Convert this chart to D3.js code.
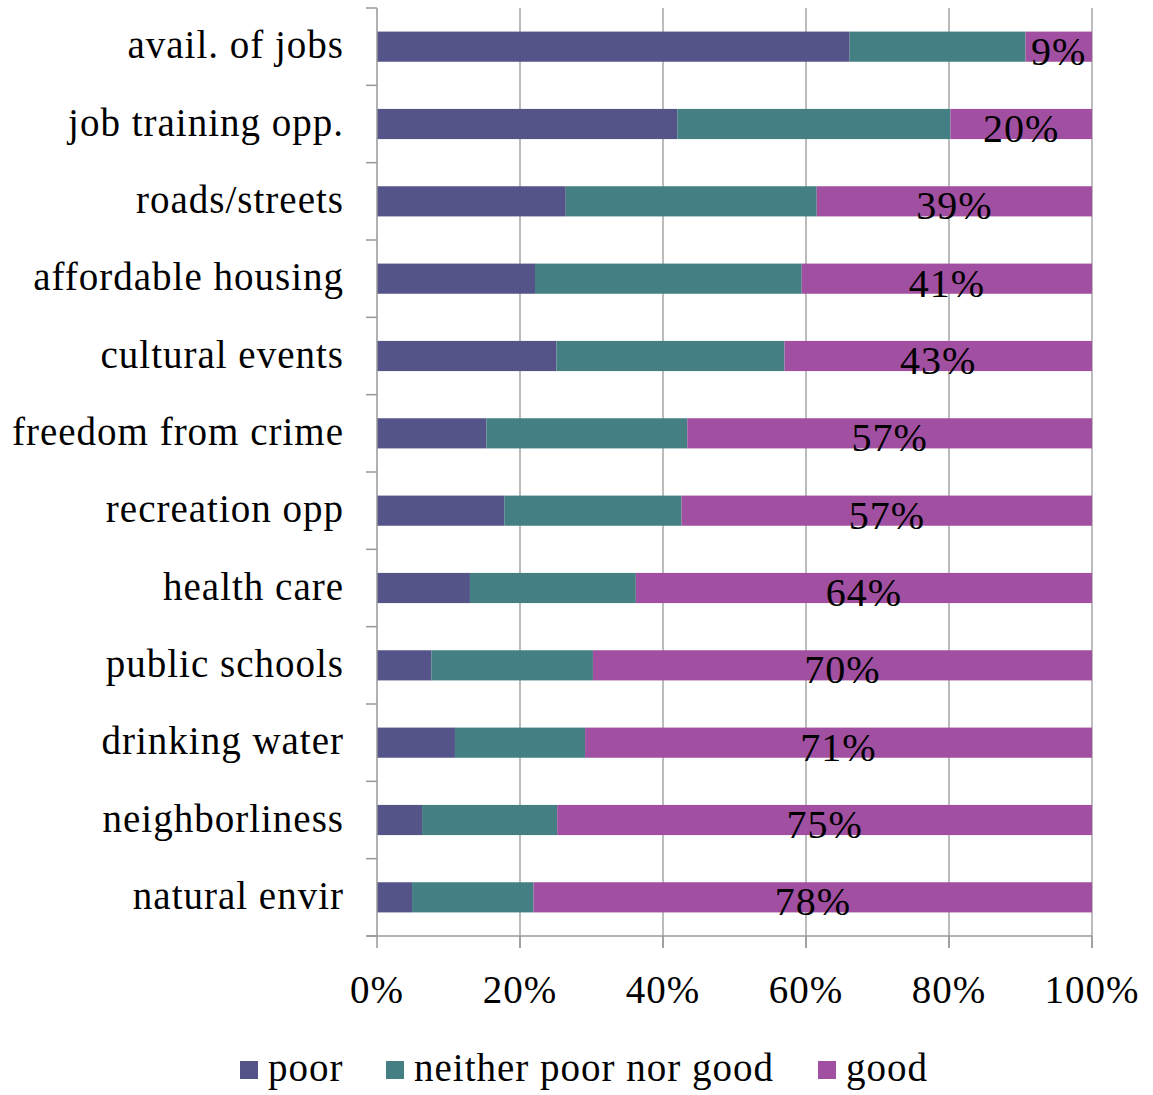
<!DOCTYPE html>
<meta charset="utf-8">
<style>
body { margin: 0; background: #fff; }
text { font-family: "Liberation Serif", "DejaVu Serif", serif; fill: #000; letter-spacing: 1px; }
</style>
<body>
<script src="https://d3js.org/d3.v7.min.js"></script>
<script>

let categories = ["avail. of jobs", "job training opp.", "roads/streets", "affordable housing",
  "cultural events", "freedom from crime", "recreation opp", "health care",
  "public schools", "drinking water", "neighborliness", "natural envir"];
let poor    = [66.1, 42.0, 26.4, 22.1, 25.1, 15.3, 17.8, 13.0,  7.6, 10.9,  6.3,  4.9];
let neither = [24.6, 38.2, 35.1, 37.3, 31.9, 28.1, 24.8, 23.2, 22.6, 18.2, 18.9, 17.0];
let good    = [ 9.3, 19.8, 38.5, 40.6, 43.0, 56.6, 57.4, 63.8, 69.8, 70.9, 74.8, 78.1];
let goodLabels = ["9%", "20%", "39%", "41%", "43%", "57%", "57%", "64%", "70%", "71%", "75%", "78%"];
let seriesNames = ["poor", "neither poor nor good", "good"];
let colors = ["#545489", "#447f83", "#a04fa1"];
let xTicks = [0, 20, 40, 60, 80, 100];

let width = 1153;
let height = 1095;
let mLeft = 377, mRight = 1092, mTop = 8, mBottom = 936;

let svg = d3.select("body").append("svg")
    .attr("width", width)
    .attr("height", height);

let data = categories.map((c, i) => ({cat: c, poor: poor[i], neither: neither[i], good: good[i]}));
let stack = d3.stack().keys(["poor", "neither", "good"])(data);

let x = d3.scaleLinear().domain([0, 100]).range([mLeft, mRight]);
let y = d3.scaleBand().domain(categories).range([mTop, mBottom]).paddingInner(0.61).paddingOuter(0.305);
let yTick = d3.scaleBand().domain(categories).range([mTop, mBottom]);

// gridlines
svg.append("g").selectAll("line")
  .data(xTicks.slice(1))
  .enter().append("line")
    .attr("x1", d => x(d)).attr("x2", d => x(d))
    .attr("y1", mTop).attr("y2", mBottom + 12)
    .attr("stroke", "#a6a6a6").attr("stroke-width", 1.5);

// bars
svg.append("g").selectAll("g")
  .data(stack)
  .enter().append("g")
    .attr("fill", (d, i) => colors[i])
  .selectAll("rect")
  .data(d => d)
  .enter().append("rect")
    .attr("x", d => x(d[0]))
    .attr("width", d => x(d[1]) - x(d[0]))
    .attr("y", d => y(d.data.cat))
    .attr("height", y.bandwidth());

// y axis line and ticks
svg.append("line")
  .attr("x1", mLeft).attr("x2", mLeft).attr("y1", mTop).attr("y2", mBottom)
  .attr("stroke", "#999").attr("stroke-width", 1.5);
svg.append("g").selectAll("line")
  .data(categories.concat(["end"]))
  .enter().append("line")
    .attr("x1", mLeft - 11).attr("x2", mLeft)
    .attr("y1", (d, i) => mTop + i * yTick.step())
    .attr("y2", (d, i) => mTop + i * yTick.step())
    .attr("stroke", "#999").attr("stroke-width", 1.5);

// x axis line and ticks
svg.append("line")
  .attr("x1", mLeft - 11).attr("x2", mRight).attr("y1", mBottom).attr("y2", mBottom)
  .attr("stroke", "#999").attr("stroke-width", 1.5);
svg.append("g").selectAll("line")
  .data(xTicks)
  .enter().append("line")
    .attr("x1", d => x(d)).attr("x2", d => x(d))
    .attr("y1", mBottom).attr("y2", mBottom + 12)
    .attr("stroke", "#999").attr("stroke-width", 1.5);

// category labels
svg.append("g").selectAll("text")
  .data(categories)
  .enter().append("text")
    .attr("x", 344)
    .attr("y", d => y(d) + y.bandwidth() / 2)
    .attr("dy", "0.3em")
    .attr("text-anchor", "end")
    .style("font-size", "39px")
    .text(d => d);

// x tick labels
svg.append("g").selectAll("text")
  .data(xTicks)
  .enter().append("text")
    .attr("x", d => x(d))
    .attr("y", 1003)
    .attr("text-anchor", "middle")
    .style("font-size", "39px")
    .text(d => d + "%");

// good labels
svg.append("g").selectAll("text")
  .data(stack[2])
  .enter().append("text")
    .attr("x", d => (x(d[0]) + x(d[1])) / 2)
    .attr("y", d => y(d.data.cat) + y.bandwidth() / 2)
    .attr("dy", "0.45em")
    .attr("text-anchor", "middle")
    .style("font-size", "40px")
    .text((d, i) => goodLabels[i]);

// legend
let legendX = [240, 386, 818];
let lg = svg.append("g").selectAll("g")
  .data(seriesNames)
  .enter().append("g")
    .attr("transform", (d, i) => `translate(${legendX[i]},1061)`);
lg.append("rect")
  .attr("width", 18).attr("height", 18)
  .attr("fill", (d, i) => colors[i]);
lg.append("text")
  .attr("x", 28).attr("y", 20)
  .style("font-size", "39px")
  .text(d => d);

</script>
